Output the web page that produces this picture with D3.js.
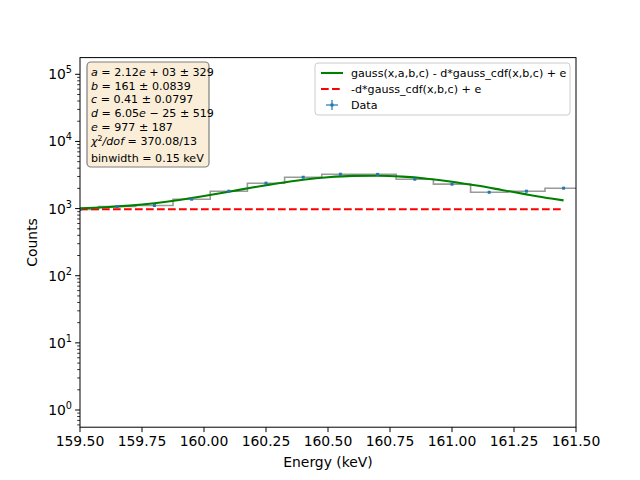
<!DOCTYPE html>
<html>
<head>
<meta charset="utf-8">
<script src="https://cdn.jsdelivr.net/npm/d3@7"></script>
<style>
  body { margin: 0; background: #fff; }
  svg { font-family: "DejaVu Sans", sans-serif; }
</style>
</head>
<body>
<svg id="chart" width="640" height="480"></svg>
<script>
// bin centres (keV) and counts
const binCenters = [159.5, 159.65, 159.8, 159.95, 160.1, 160.25, 160.4, 160.55, 160.7, 160.85, 161.0, 161.15, 161.3, 161.45];
const counts = [970, 1075, 1112, 1380, 1815, 2390, 2930, 3250, 3230, 2740, 2310, 1750, 1815, 2013];
const binWidth = 0.15;

// fitted curve
const fitX = [159.5, 159.6, 159.7, 159.8, 159.9, 160.0, 160.1, 160.2, 160.3, 160.4, 160.5, 160.6, 160.7, 160.8, 160.9, 161.0, 161.1, 161.2, 161.3, 161.4, 161.45];
const fitY = [1013, 1047, 1106, 1200, 1340, 1535, 1784, 2076, 2388, 2684, 2922, 3066, 3091, 2993, 2788, 2510, 2200, 1896, 1628, 1411, 1324];
const bgY = [977, 977, 977, 977, 977, 977, 977, 977, 977, 977, 977, 977, 977, 977, 977, 977, 977, 977, 977, 977, 977];

const xTicks = [159.5, 159.75, 160.0, 160.25, 160.5, 160.75, 161.0, 161.25, 161.5];
const yDecades = [0, 1, 2, 3, 4, 5];

const legendLabels = ["gauss(x,a,b,c) - d*gauss_cdf(x,b,c) + e", "-d*gauss_cdf(x,b,c) + e", "Data"];

// fit results box, each line as [text, italic, sup] pieces
const fitLines = [
  [["a", 1], [" = 2.12", 0], ["e", 1], [" + 03 \u00b1 329", 0]],
  [["b", 1], [" = 161 \u00b1 0.0839", 0]],
  [["c", 1], [" = 0.41 \u00b1 0.0797", 0]],
  [["d", 1], [" = 6.05", 0], ["e", 1], [" \u2212 25 \u00b1 519", 0]],
  [["e", 1], [" = 977 \u00b1 187", 0]],
  [["\u03c7", 1], ["2", 0, "sup"], ["/", 1], ["dof", 1], [" = 370.08/13", 0]],
  [["binwidth = 0.15 keV", 0]]
];

const svg = d3.select('#chart');
const mLeft = 80, mRight = 576, mTop = 57.6, mBottom = 427.2;

let x = d3.scaleLinear()
  .domain([159.5, 161.5])
  .range([mLeft, mRight]);

let y = d3.scaleLog()
  .domain([0.5546, 177300])
  .range([mBottom, mTop]);

svg.append('defs').append('clipPath')
  .attr('id', 'clip')
  .append('rect')
  .attr('x', mLeft).attr('y', mTop)
  .attr('width', mRight - mLeft).attr('height', mBottom - mTop);

let plot = svg.append('g').attr('clip-path', 'url(#clip)');

// step histogram
let stepPts = [];
binCenters.forEach((c, i) => {
  stepPts.push([c - binWidth / 2, counts[i]]);
  stepPts.push([c + binWidth / 2, counts[i]]);
});
plot.append('path')
  .datum(stepPts)
  .attr('fill', 'none')
  .attr('stroke', '#9a9a9a')
  .attr('stroke-width', 1.6)
  .attr('d', d3.line().x(d => x(d[0])).y(d => y(d[1])));

// background line
plot.append('path')
  .datum(fitX.map((v, i) => [v, bgY[i]]))
  .attr('fill', 'none')
  .attr('stroke', '#ff0000')
  .attr('stroke-width', 2.08)
  .attr('stroke-dasharray', '7.7,3.3')
  .attr('d', d3.line().x(d => x(d[0])).y(d => y(d[1])));

// fit curve
plot.append('path')
  .datum(fitX.map((v, i) => [v, fitY[i]]))
  .attr('fill', 'none')
  .attr('stroke', '#008000')
  .attr('stroke-width', 2.08)
  .attr('d', d3.line().curve(d3.curveMonotoneX).x(d => x(d[0])).y(d => y(d[1])));

// data points with error bars
let pts = plot.selectAll('g.pt')
  .data(binCenters.map((c, i) => ({ c: c, n: counts[i] })))
  .enter().append('g').attr('class', 'pt');
pts.append('line')
  .attr('x1', d => x(d.c)).attr('x2', d => x(d.c))
  .attr('y1', d => y(d.n - Math.sqrt(d.n))).attr('y2', d => y(d.n + Math.sqrt(d.n)))
  .attr('stroke', '#1f77b4').attr('stroke-width', 1.2);
pts.append('rect')
  .attr('x', d => x(d.c) - 1.5).attr('y', d => y(d.n) - 1.5)
  .attr('width', 3).attr('height', 3)
  .attr('fill', '#1f77b4');

// axes frame
svg.append('rect')
  .attr('x', mLeft).attr('y', mTop)
  .attr('width', mRight - mLeft).attr('height', mBottom - mTop)
  .attr('fill', 'none').attr('stroke', '#000').attr('stroke-width', 1);

// x ticks
let xg = svg.append('g');
xTicks.forEach(t => {
  xg.append('line')
    .attr('x1', x(t)).attr('x2', x(t))
    .attr('y1', mBottom).attr('y2', mBottom + 4.9)
    .attr('stroke', '#000').attr('stroke-width', 1);
  xg.append('text')
    .attr('x', x(t)).attr('y', mBottom + 19)
    .attr('text-anchor', 'middle')
    .attr('font-size', 13.9)
    .text(t.toFixed(2));
});

// y ticks
let yg = svg.append('g');
yDecades.forEach(p => {
  let v = Math.pow(10, p);
  yg.append('line')
    .attr('x1', mLeft - 4.9).attr('x2', mLeft)
    .attr('y1', y(v)).attr('y2', y(v))
    .attr('stroke', '#000').attr('stroke-width', 1);
  let t = yg.append('text')
    .attr('x', mLeft - 8).attr('y', y(v) + 5)
    .attr('text-anchor', 'end')
    .attr('font-size', 13.9);
  t.append('tspan').text('10');
  t.append('tspan').attr('dy', -6).attr('font-size', 9.7).text(p);
});
// minor ticks
d3.range(-1, 6).forEach(p => {
  d3.range(2, 10).forEach(m => {
    let v = m * Math.pow(10, p);
    if (v < y.domain()[0] || v > y.domain()[1]) return;
    yg.append('line')
      .attr('x1', mLeft - 2.8).attr('x2', mLeft)
      .attr('y1', y(v)).attr('y2', y(v))
      .attr('stroke', '#000').attr('stroke-width', 0.8);
  });
});

// axis labels
svg.append('text')
  .attr('x', (mLeft + mRight) / 2).attr('y', 467)
  .attr('text-anchor', 'middle')
  .attr('font-size', 13.9)
  .text('Energy (keV)');
svg.append('text')
  .attr('transform', `translate(37,${(mTop + mBottom) / 2}) rotate(-90)`)
  .attr('text-anchor', 'middle')
  .attr('font-size', 13.9)
  .text('Counts');

// fit results box
svg.append('rect')
  .attr('x', 87).attr('y', 62)
  .attr('width', 122).attr('height', 105)
  .attr('rx', 4)
  .attr('fill', '#f5deb3').attr('fill-opacity', 0.5)
  .attr('stroke', '#7f7f7f').attr('stroke-width', 1.2);
let lineYs = [76, 89.5, 103, 117, 131, 145, 162];
fitLines.forEach((parts, i) => {
  let t = svg.append('text')
    .attr('x', 91).attr('y', lineYs[i])
    .attr('font-size', 11.1);
  parts.forEach((p, j) => {
    let s = t.append('tspan').text(p[0]);
    if (p[1]) s.attr('font-style', 'italic');
    if (p[2] === 'sup') s.attr('dy', -4).attr('font-size', 7.8);
    else if (j > 0 && parts[j - 1][2] === 'sup') s.attr('dy', 4);
  });
});

// legend
let lg = svg.append('g');
lg.append('rect')
  .attr('x', 315).attr('y', 63)
  .attr('width', 255).attr('height', 52)
  .attr('rx', 3)
  .attr('fill', '#fff').attr('fill-opacity', 0.8)
  .attr('stroke', '#cccccc').attr('stroke-width', 1);
let legY = [73, 89, 105];
lg.append('line')
  .attr('x1', 321).attr('x2', 343).attr('y1', legY[0]).attr('y2', legY[0])
  .attr('stroke', '#008000').attr('stroke-width', 2.08);
lg.append('line')
  .attr('x1', 321).attr('x2', 343).attr('y1', legY[1]).attr('y2', legY[1])
  .attr('stroke', '#ff0000').attr('stroke-width', 2.08)
  .attr('stroke-dasharray', '7.7,3.3');
lg.append('line')
  .attr('x1', 332).attr('x2', 332).attr('y1', legY[2] - 5).attr('y2', legY[2] + 5)
  .attr('stroke', '#1f77b4').attr('stroke-width', 1.2);
lg.append('line')
  .attr('x1', 326).attr('x2', 338).attr('y1', legY[2]).attr('y2', legY[2])
  .attr('stroke', '#1f77b4').attr('stroke-width', 1.2);
lg.append('rect')
  .attr('x', 330.5).attr('y', legY[2] - 1.5).attr('width', 3).attr('height', 3)
  .attr('fill', '#1f77b4');
legendLabels.forEach((l, i) => {
  lg.append('text')
    .attr('x', 351).attr('y', legY[i] + 4)
    .attr('font-size', 11.1)
    .text(l);
});
</script>
</body>
</html>
